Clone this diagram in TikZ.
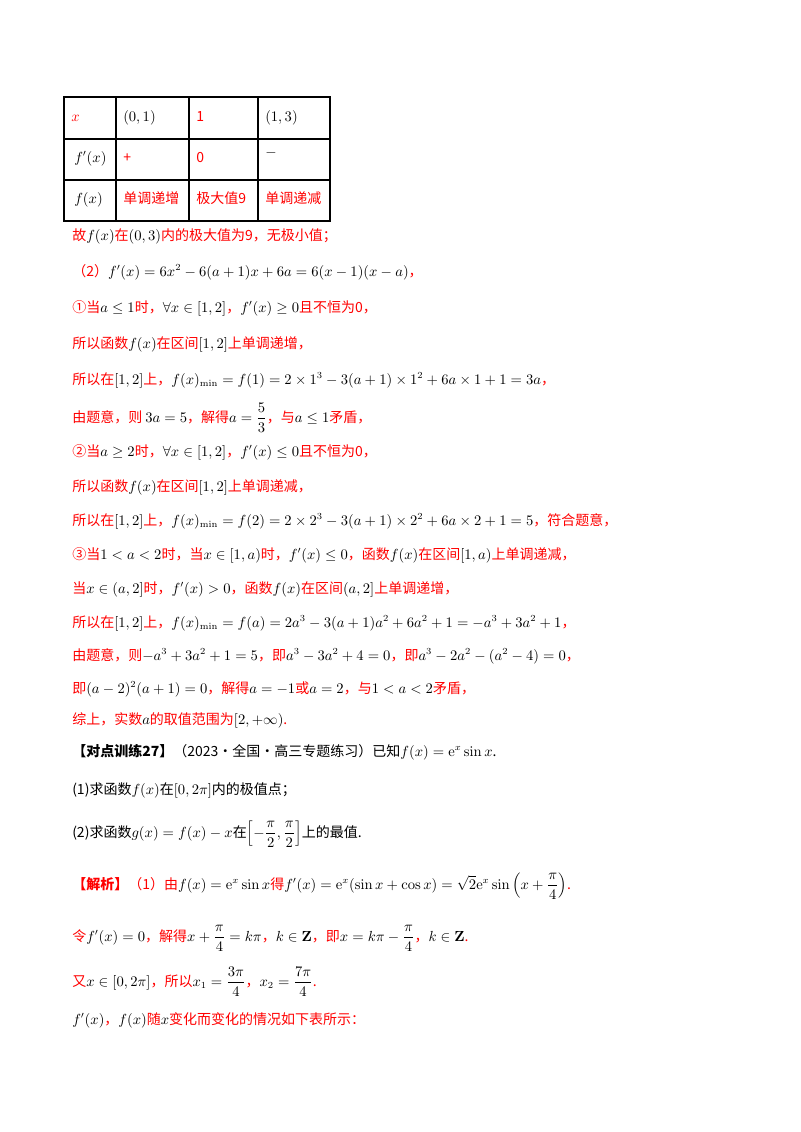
\documentclass[tikz,border=0pt]{standalone}
\usepackage{amsmath,amssymb}
\usepackage[no-math]{fontspec}
\setmainfont{Noto Sans CJK SC}
\everymath{\color{black}}
\tikzset{x=0.75pt,y=-0.75pt,
 ln/.style={anchor=base west,inner sep=0pt,text=red,font=\fontsize{10.5}{12}\selectfont},
 cell/.style={ln},
 tb/.style={line width=0.8pt}}
\begin{document}
\begin{tikzpicture}
\useasboundingbox[fill=white] (0,0) rectangle (800,1132);
% table
\draw[tb] (64,97) rectangle (330,221);
\foreach \xx in {116,189,258} \draw[tb] (\xx,97)--(\xx,221);
\foreach \yy in {139,180} \draw[tb] (64,\yy)--(330,\yy);
\node[cell] (c11) at (71,121) {$\color{red}x$};
\node[cell] (c12) at (123,121) {$(0,1)$};
\node[cell] (c13) at (196,121) {1};
\node[cell] (c14) at (265,121) {$(1,3)$};
\node[cell] (c21) at (74,162) {$f'(x)$};
\node[cell] (c22) at (123,162) {+};
\node[cell] (c23) at (196,162) {0};
\node[cell] (c24) at (265,156) {$-$};
\node[cell] (c31) at (74,203) {$f(x)$};
\node[cell] (c32) at (123,203) {单调递增};
\node[cell] (c33) at (196,203) {极大值9};
\node[cell] (c34) at (265,203) {单调递减};
% text
\node[ln] (l1) at (72,240) {故$f(x)$在$(0,3)$内的极大值为9，无极小值；};
\node[ln] (l2) at (72,276) {（2）$f'(x)=6x^2-6(a+1)x+6a=6(x-1)(x-a)$，};
\node[ln] (l3) at (72,312) {①当$a\le1$时，$\forall x\in[1,2]$，$f'(x)\ge0$且不恒为0，};
\node[ln] (l4) at (72,348) {所以函数$f(x)$在区间$[1,2]$上单调递增，};
\node[ln] (l5) at (72,384) {所以在$[1,2]$上，$f(x)_{\min}=f(1)=2\times1^3-3(a+1)\times1^2+6a\times1+1=3a$，};
\node[ln] (l6) at (72,422) {由题意，则 $3a=5$，解得$a=\dfrac53$，与$a\le1$矛盾，};
\node[ln] (l7) at (72,456) {②当$a\ge2$时，$\forall x\in[1,2]$，$f'(x)\le0$且不恒为0，};
\node[ln] (l8) at (72,491) {所以函数$f(x)$在区间$[1,2]$上单调递减，};
\node[ln] (l9) at (72,525) {所以在$[1,2]$上，$f(x)_{\min}=f(2)=2\times2^3-3(a+1)\times2^2+6a\times2+1=5$，符合题意，};
\node[ln] (l10) at (72,559) {③当$1<a<2$时，当$x\in[1,a)$时，$f'(x)\le0$，函数$f(x)$在区间$[1,a)$上单调递减，};
\node[ln] (l11) at (72,593) {当$x\in(a,2]$时，$f'(x)>0$，函数$f(x)$在区间$(a,2]$上单调递增，};
\node[ln] (l12) at (72,627) {所以在$[1,2]$上，$f(x)_{\min}=f(a)=2a^3-3(a+1)a^2+6a^2+1=-a^3+3a^2+1$，};
\node[ln] (l13) at (72,660) {由题意，则$-a^3+3a^2+1=5$，即$a^3-3a^2+4=0$，即$a^3-2a^2-(a^2-4)=0$，};
\node[ln] (l14) at (72,693) {即$(a-2)^2(a+1)=0$，解得$a=-1$或$a=2$，与$1<a<2$矛盾，};
\node[ln] (l15) at (72,724) {综上，实数$a$的取值范围为$[2,+\infty)$.};
\node[ln,text=black] (l16) at (72,756) {\textbf{【对点训练27】}（2023·全国·高三专题练习）已知$f(x)=\mathrm{e}^x\sin x$.};
\node[ln,text=black] (l17) at (72,794) {(1)求函数$f(x)$在$[0,2\pi]$内的极值点；};
\node[ln,text=black] (l18) at (72,837) {(2)求函数$g(x)=f(x)-x$在$\left[-\dfrac\pi2,\dfrac\pi2\right]$上的最值.};
\node[ln] (l19) at (72,889) {\textbf{【解析】}（1）由$f(x)=\mathrm{e}^x\sin x$得$f'(x)=\mathrm{e}^x(\sin x+\cos x)=\sqrt2\mathrm{e}^x\sin\left(x+\dfrac\pi4\right)$.};
\node[ln] (l20) at (72,941) {令$f'(x)=0$，解得$x+\dfrac\pi4=k\pi$，$k\in\mathbf Z$，即$x=k\pi-\dfrac\pi4$，$k\in\mathbf Z$.};
\node[ln] (l21) at (72,986) {又$x\in[0,2\pi]$，所以$x_1=\dfrac{3\pi}4$，$x_2=\dfrac{7\pi}4$.};
\node[ln] (l22) at (72,1024) {$f'(x)$，$f(x)$随$x$变化而变化的情况如下表所示：};
\end{tikzpicture}
\end{document}
